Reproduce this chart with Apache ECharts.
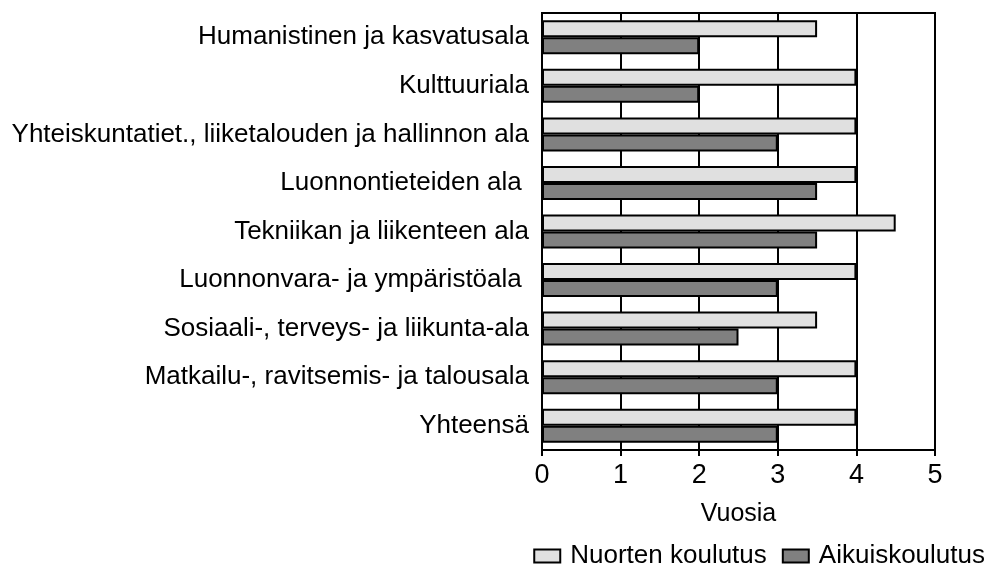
<!DOCTYPE html>
<html><head><meta charset="utf-8">
<script src="https://cdn.jsdelivr.net/npm/echarts@6/dist/echarts.min.js"></script>
<style>html,body{margin:0;padding:0;background:#fff}#c{width:995px;height:577px}</style>
</head><body><div id="c"></div>
<script>
var categories = ["Humanistinen ja kasvatusala","Kulttuuriala","Yhteiskuntatiet., liiketalouden ja hallinnon ala","Luonnontieteiden ala ","Tekniikan ja liikenteen ala","Luonnonvara- ja ympäristöala ","Sosiaali-, terveys- ja liikunta-ala","Matkailu-, ravitsemis- ja talousala","Yhteensä"];
var nuorten = [3.5, 4, 4, 4, 4.5, 4, 3.5, 4, 4];
var aikuis = [2, 2, 3, 3.5, 3.5, 3, 2.5, 3, 3];
var seriesNames = ["Nuorten koulutus", "Aikuiskoulutus"];
var axisName = "Vuosia";

var font = "'Liberation Sans', Arial, sans-serif";
var chart = echarts.init(document.getElementById('c'));
chart.setOption({
  animation: false,
  textStyle: {fontFamily: font, color: '#000'},
  grid: {left: 542, right: 60, top: 13, bottom: 127, show: true, borderColor: '#000', borderWidth: 2, backgroundColor: 'transparent'},
  xAxis: {
    type: 'value', min: 0, max: 5, interval: 1,
    name: axisName, nameLocation: 'middle', nameGap: 52,
    nameTextStyle: {fontSize: 25, color: '#000', fontFamily: font},
    axisLine: {show: true, lineStyle: {color: '#000', width: 2}},
    axisTick: {show: true, length: 6, lineStyle: {color: '#000', width: 2}},
    axisLabel: {fontSize: 27, color: '#000', margin: 12, fontFamily: font},
    splitLine: {show: true, lineStyle: {color: '#000', width: 2}}
  },
  yAxis: {
    type: 'category', data: categories, inverse: true,
    axisLine: {show: true, lineStyle: {color: '#000', width: 2}},
    axisTick: {show: false},
    axisLabel: {fontSize: 26, color: '#000', margin: 13, fontFamily: font}
  },
  legend: {
    right: 5, bottom: 3, icon: 'rect', itemWidth: 26, itemHeight: 13, itemGap: 15,
    textStyle: {fontSize: 26, color: '#000', fontFamily: font, padding: [0, 0, 0, 5]},
    data: seriesNames
  },
  series: [
    {name: seriesNames[0], type: 'bar', data: nuorten, barWidth: 17, barGap: '0%',
     itemStyle: {color: '#e0e0e0', borderColor: '#000', borderWidth: 2}},
    {name: seriesNames[1], type: 'bar', data: aikuis, barWidth: 17, barGap: '0%',
     itemStyle: {color: '#808080', borderColor: '#000', borderWidth: 2}}
  ]
});
</script></body></html>
